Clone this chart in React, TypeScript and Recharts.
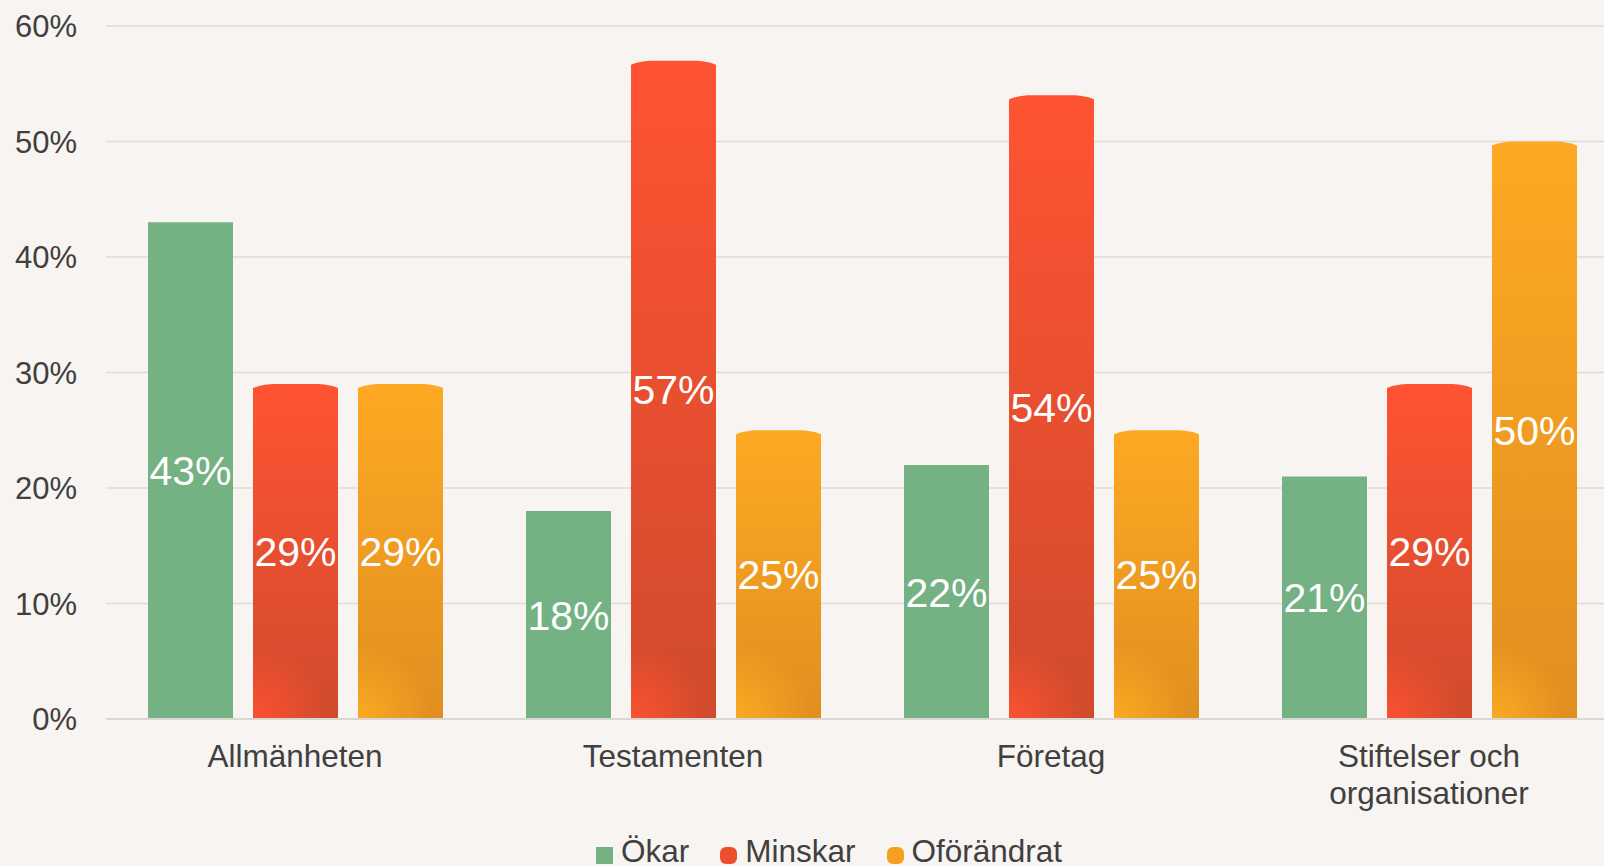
import React from 'react';
import { BarChart, Bar, XAxis, YAxis, CartesianGrid, LabelList } from 'recharts';

const categories = ['Allmänheten', 'Testamenten', 'Företag', 'Stiftelser och organisationer'];
const okar = [43, 18, 22, 21];
const minskar = [29, 57, 54, 29];
const oforandrat = [29, 25, 25, 50];
const yTicks = [0, 10, 20, 30, 40, 50, 60];

const data = categories.map((name, i) => ({
  name,
  okar: okar[i],
  minskar: minskar[i],
  oforandrat: oforandrat[i],
}));

const FONT = '"Liberation Sans", Arial, sans-serif';
const TEXT = '#404040';
const BG = '#F7F4F1';

// split long category names into lines (roughly like the original wrapping)
const wrap = (s: string, max = 16) => {
  const words = s.split(' ');
  const lines: string[] = [];
  let cur = '';
  words.forEach((w) => {
    const next = cur ? cur + ' ' + w : w;
    if (next.length > max && cur) {
      lines.push(cur);
      cur = w;
    } else cur = next;
  });
  if (cur) lines.push(cur);
  return lines;
};

const CategoryTick = (props: any) => {
  const { x, y, payload } = props;
  const lines = wrap(payload.value);
  return (
    <text x={x} y={y} textAnchor="middle" fill={TEXT} fontSize={31.5}>
      {lines.map((l, i) => (
        <tspan key={i} x={x} y={y + 48 + i * 37}>
          {l}
        </tspan>
      ))}
    </text>
  );
};

// bars with a slightly domed top and a warm glow in the bottom-left corner
const makeDome = (id: string, glow: string) => (props: any) => {
  const { x, y, width: w, height: h } = props;
  if (!h || h <= 0) return null;
  const d = `M${x},${y + h} L${x},${y + 4} C${x + w * 0.08},${y + 1} ${x + w * 0.18},${y} ${x + w * 0.25},${y} L${x + w * 0.75},${y} C${x + w * 0.82},${y} ${x + w * 0.92},${y + 1} ${x + w},${y + 4} L${x + w},${y + h} Z`;
  const gid = `${id}-glow-${Math.round(x)}`;
  return (
    <g>
      <defs>
        <radialGradient id={gid} gradientUnits="userSpaceOnUse" cx={x} cy={y + h} r={75}>
          <stop offset="0%" stopColor={glow} stopOpacity={0.95} />
          <stop offset="100%" stopColor={glow} stopOpacity={0} />
        </radialGradient>
      </defs>
      <path d={d} fill={`url(#${id})`} />
      <path d={d} fill={`url(#${gid})`} />
    </g>
  );
};

const redShape = makeDome('gradRed', '#FF5230');
const orangeShape = makeDome('gradOrange', '#FDAC22');

const legendItems = [
  { label: 'Ökar', color: '#74B183', radius: 0 },
  { label: 'Minskar', color: '#EE4E2E', radius: 6 },
  { label: 'Oförändrat', color: '#F4A020', radius: 6 },
];

const App = () => {
  return (
    <div
      style={{
        position: 'absolute',
        top: 0,
        left: 0,
        width: 1604,
        height: 866,
        overflow: 'hidden',
        background: BG,
        fontFamily: FONT,
      }}
    >
      <BarChart
        width={1640}
        height={866}
        data={data}
        margin={{ top: 26, right: 22, left: 0, bottom: 27 }}
        barSize={85}
        barGap={20}
      >
        <defs>
          <linearGradient id="gradRed" x1="0" y1="0" x2="0" y2="1">
            <stop offset="0%" stopColor="#FF5333" />
            <stop offset="100%" stopColor="#D04B2C" />
          </linearGradient>
          <linearGradient id="gradOrange" x1="0" y1="0" x2="0" y2="1">
            <stop offset="0%" stopColor="#FEA923" />
            <stop offset="100%" stopColor="#E08F20" />
          </linearGradient>
        </defs>
        <CartesianGrid vertical={false} stroke="#DFDBD8" strokeWidth={1.5} />
        <XAxis
          dataKey="name"
          height={120}
          tickLine={false}
          tickSize={0}
          tickMargin={0}
          axisLine={{ stroke: '#DAD6D3', strokeWidth: 2 }}
          tick={<CategoryTick />}
          interval={0}
        />
        <YAxis
          width={106}
          domain={[0, 60]}
          ticks={yTicks}
          tickFormatter={(v) => `${v}%`}
          axisLine={false}
          tickLine={false}
          tickSize={0}
          tickMargin={29}
          tick={{ fill: TEXT, fontSize: 31 }}
        />
        <Bar dataKey="okar" name="Ökar" fill="#74B183" isAnimationActive={false}>
          <LabelList dataKey="okar" position="center" formatter={(v: any) => `${v}%`} fill="#FFFFFF" fontSize={41} />
        </Bar>
        <Bar dataKey="minskar" name="Minskar" shape={redShape} isAnimationActive={false}>
          <LabelList dataKey="minskar" position="center" formatter={(v: any) => `${v}%`} fill="#FFFFFF" fontSize={41} />
        </Bar>
        <Bar dataKey="oforandrat" name="Oförändrat" shape={orangeShape} isAnimationActive={false}>
          <LabelList dataKey="oforandrat" position="center" formatter={(v: any) => `${v}%`} fill="#FFFFFF" fontSize={41} />
        </Bar>
      </BarChart>
      <div
        style={{
          position: 'absolute',
          top: 836,
          left: 596,
          height: 31,
          display: 'flex',
          alignItems: 'center',
          fontSize: 31.5,
          lineHeight: '31px',
          color: TEXT,
          whiteSpace: 'nowrap',
        }}
      >
        {legendItems.map((it) => (
          <div key={it.label} style={{ display: 'flex', alignItems: 'center', marginRight: 31 }}>
            <span
              style={{
                display: 'inline-block',
                width: 17,
                height: 17,
                background: it.color,
                borderRadius: it.radius,
                marginTop: 7,
                marginRight: 8,
              }}
            />
            <span>{it.label}</span>
          </div>
        ))}
      </div>
    </div>
  );
};

export default App;
